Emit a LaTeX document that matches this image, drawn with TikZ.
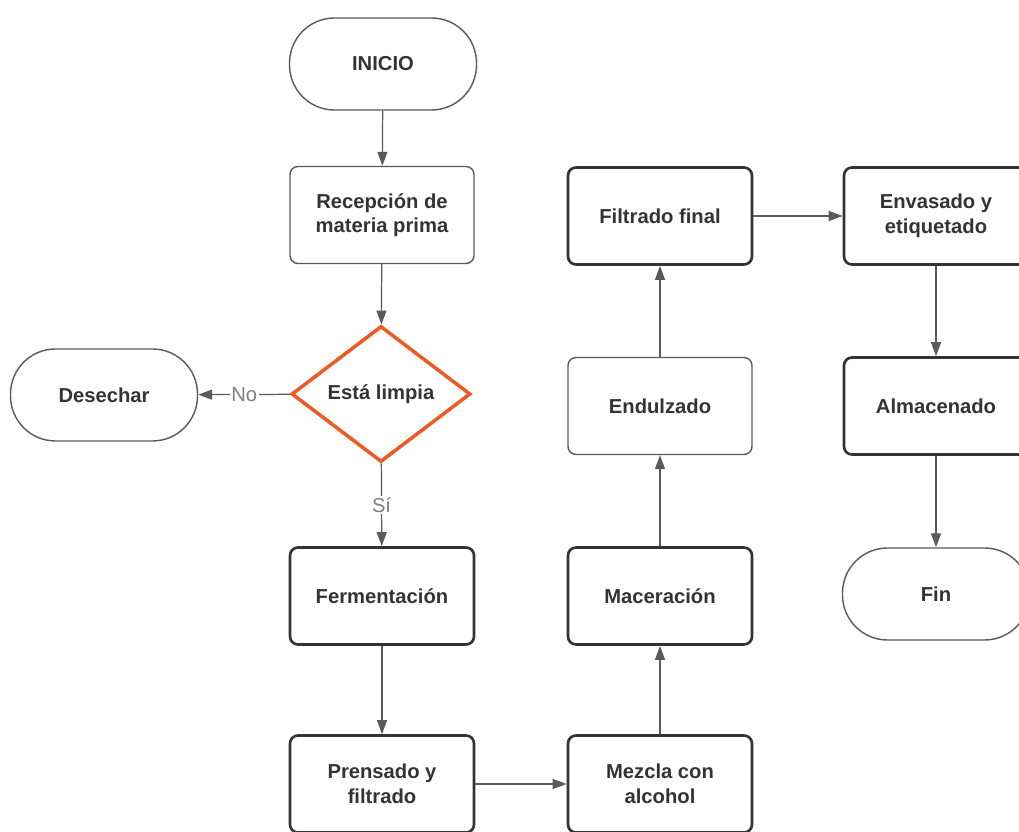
\documentclass[tikz,border=0pt]{standalone}
\usepackage{fontspec}
\setmainfont{Liberation Sans}
\usetikzlibrary{arrows.meta,shapes.geometric}

\definecolor{txt}{HTML}{333333}
\definecolor{linea}{HTML}{5A5A5A}
\definecolor{naranja}{HTML}{EE5A24}

\tikzset{
  base/.style={text=txt, font=\fontsize{11.5}{14}\selectfont\bfseries, align=center},
  terminal/.style={base, draw=linea, line width=0.8pt, rectangle, rounded corners=0.9cm,
                   minimum width=3.74cm, minimum height=1.84cm},
  paso/.style={base, draw=linea, line width=0.8pt, rectangle, rounded corners=0.16cm,
               minimum width=3.68cm, minimum height=1.94cm},
  pasofuerte/.style={paso, draw=txt, line width=1.5pt},
  decision/.style={base, draw=naranja, line width=2pt, diamond, aspect=1.32,
                   minimum width=3.58cm, minimum height=2.72cm, inner sep=0pt},
  flecha/.style={draw=linea, line width=0.7pt, -{Triangle[length=0.28cm,width=0.2cm]}},
  etiqueta/.style={fill=white, text=gray, font=\fontsize{11.5}{14}\selectfont, inner sep=1pt}
}

\begin{document}
\begin{tikzpicture}
  \useasboundingbox (0,0) rectangle (20.38,-16.64);

  % columna izquierda
  \node[terminal] (inicio) at (7.66,-1.28) {INICIO};
  \node[paso] (recepcion) at (7.64,-4.30) {Recepción de\\materia prima};
  \node[decision] (limpia) at (7.62,-7.88) {Está limpia};
  \node[terminal] (desechar) at (2.08,-7.90) {Desechar};
  \node[pasofuerte] (fermentacion) at (7.64,-11.92) {Fermentación};
  \node[pasofuerte] (prensado) at (7.64,-15.68) {Prensado y\\filtrado};

  % columna central
  \node[pasofuerte] (mezcla) at (13.20,-15.68) {Mezcla con\\alcohol};
  \node[pasofuerte] (maceracion) at (13.20,-11.92) {Maceración};
  \node[paso] (endulzado) at (13.20,-8.12) {Endulzado};
  \node[pasofuerte] (filtrado) at (13.20,-4.32) {Filtrado final};

  % columna derecha
  \node[pasofuerte] (envasado) at (18.72,-4.32) {Envasado y\\etiquetado};
  \node[pasofuerte] (almacenado) at (18.72,-8.12) {Almacenado};
  \node[terminal] (fin) at (18.72,-11.88) {Fin};

  \draw[flecha] (inicio) -- (recepcion);
  \draw[flecha] (recepcion) -- (limpia);
  \draw[flecha] (limpia) -- node[etiqueta] {No} (desechar);
  \draw[flecha] (limpia) -- node[etiqueta] {Sí} (fermentacion);
  \draw[flecha] (fermentacion) -- (prensado);
  \draw[flecha] (prensado) -- (mezcla);
  \draw[flecha] (mezcla) -- (maceracion);
  \draw[flecha] (maceracion) -- (endulzado);
  \draw[flecha] (endulzado) -- (filtrado);
  \draw[flecha] (filtrado) -- (envasado);
  \draw[flecha] (envasado) -- (almacenado);
  \draw[flecha] (almacenado) -- (fin);
\end{tikzpicture}
\end{document}
